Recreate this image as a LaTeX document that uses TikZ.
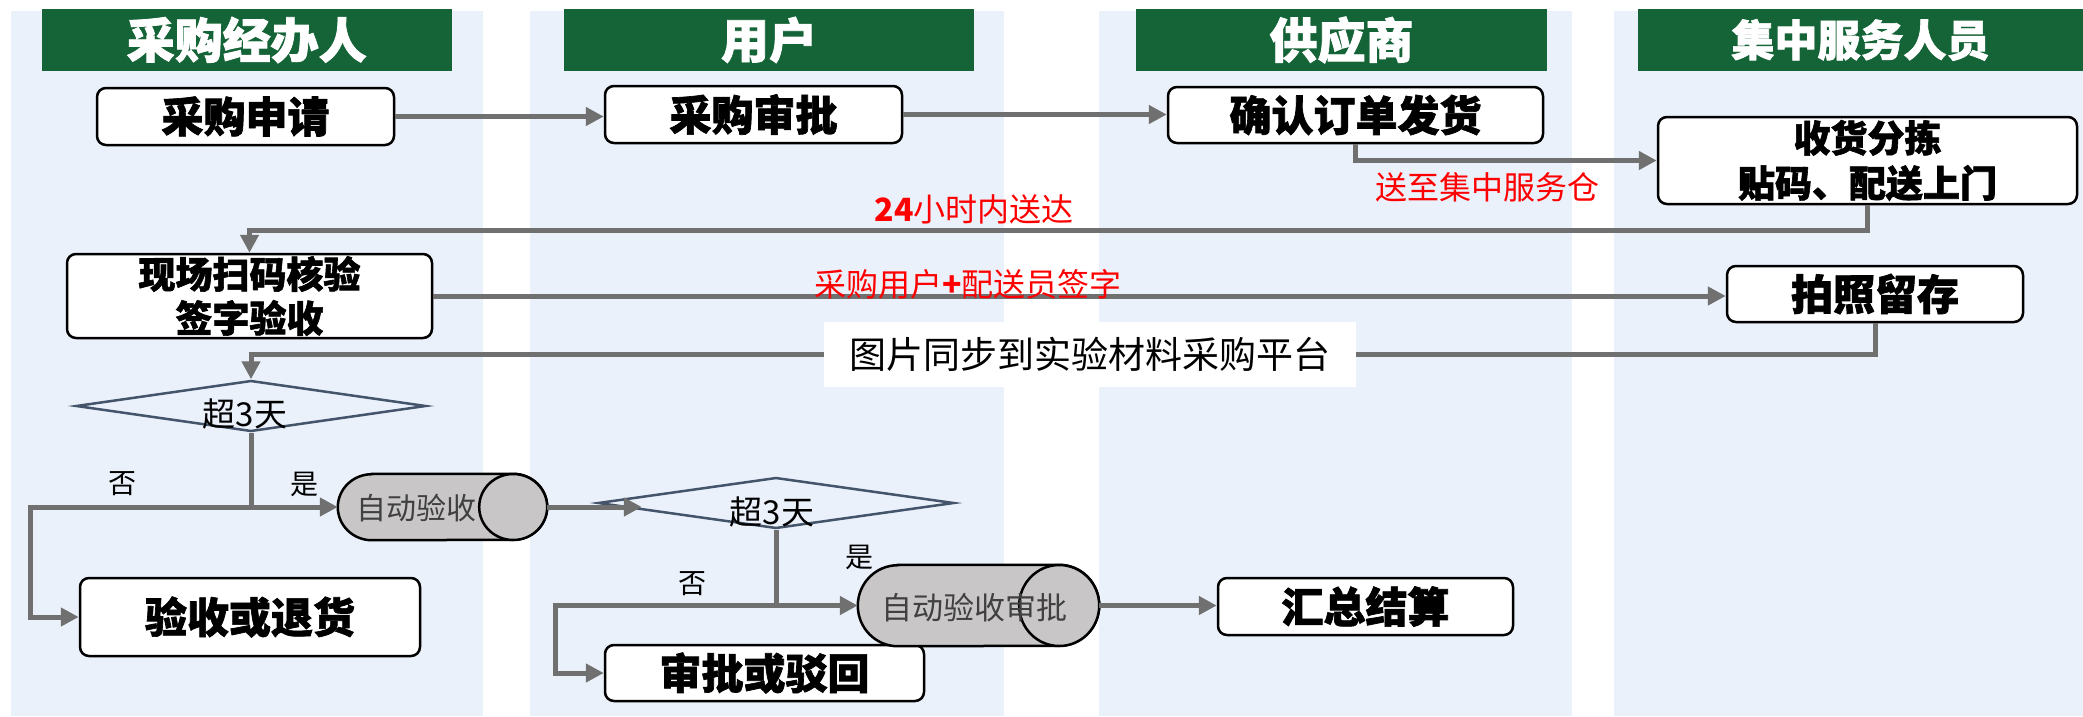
\documentclass[tikz,border=0pt]{standalone}
\usepackage{fontspec}
\setmainfont{Noto Sans CJK SC}[BoldFeatures={FakeBold=1.6}]
\newfontfamily\redbold{Noto Sans CJK SC}
\usetikzlibrary{arrows.meta,shapes.geometric,calc}
\definecolor{laneblue}{RGB}{234,241,250}
\definecolor{hdrgreen}{RGB}{21,100,55}
\definecolor{arrgray}{RGB}{112,112,112}
\definecolor{decblue}{RGB}{68,84,106}
\definecolor{cylgray}{RGB}{200,198,199}
\definecolor{txtgray}{RGB}{64,64,64}
\tikzset{
  lane/.style={fill=laneblue, draw=none},
  hdr/.style={fill=hdrgreen, text=white, inner sep=0pt, minimum height=62pt, font=\fontsize{48}{52}\selectfont\bfseries},
  box/.style={draw=black, line width=2.5pt, fill=white, rounded corners=9pt, inner sep=0pt, align=center, font=\fontsize{42}{46}\selectfont\bfseries},
  dec/.style={diamond, draw=decblue, line width=2.5pt, inner sep=0pt, minimum height=51pt},
  arr/.style={draw=arrgray, line width=5pt, -{Triangle[length=18pt,width=18pt]}},
  lbl/.style={inner sep=0pt, font=\fontsize{28}{30}\selectfont},
  redlbl/.style={inner sep=0pt, text=red, font=\fontsize{32}{34}\selectfont},
  cylbody/.style={inner sep=0pt, draw=none},
  cyl/.style={draw=black, line width=2.5pt, fill=cylgray},
  cyltxt/.style={inner sep=0pt, text=txtgray, font=\fontsize{31}{33}\selectfont},
}
\begin{document}
\begin{tikzpicture}[x=1pt,y=-1pt]
\useasboundingbox (0,0) rectangle (2083,716);
\fill[white] (0,0) rectangle (2083,716);
% lanes
\fill[lane] (11,11) rectangle (483,716);
\fill[lane] (530,11) rectangle (1004,716);
\fill[lane] (1099,11) rectangle (1572,716);
\fill[lane] (1614,11) rectangle (2083,716);
% headers
\node[hdr, minimum width=410pt] (h1) at (246.75,40) {采购经办人};
\node[hdr, minimum width=410pt] (h2) at (769,40) {用户};
\node[hdr, minimum width=411pt] (h3) at (1341.5,40) {供应商};
\node[hdr, minimum width=445pt, font=\fontsize{43}{46}\selectfont\bfseries] (h4) at (1860.5,40) {集中服务人员};
% boxes
\node[box, minimum width=297pt, minimum height=57pt] (b1) at (245.5,116.5) {采购申请};
\node[box, minimum width=297pt, minimum height=57pt] (b2) at (753.5,114.5) {采购审批};
\node[box, minimum width=375pt, minimum height=56pt] (b3) at (1355.5,115) {确认订单发货};
\node[box, minimum width=419pt, minimum height=87pt, font=\fontsize{37}{45}\selectfont\bfseries] (b4) at (1867.5,160.5) {收货分拣\\贴码、配送上门};
\node[box, minimum width=365pt, minimum height=84pt, font=\fontsize{37}{44}\selectfont\bfseries] (b5) at (249.5,296) {现场扫码核验\\签字验收};
\node[box, minimum width=296pt, minimum height=56pt] (b6) at (1875,294) {拍照留存};
\node[box, minimum width=340pt, minimum height=78pt] (b7) at (250,617) {验收或退货};
\node[box, minimum width=319pt, minimum height=56pt] (b8) at (764.5,673) {审批或驳回};
\node[box, minimum width=295pt, minimum height=57pt] (b9) at (1365.5,606.5) {汇总结算};
% decisions
\node[dec, minimum width=350pt] (d1) at (251,406) {};
\node[lbl, font=\fontsize{33}{35}\selectfont] (d1t) at (245,414) {超3天};
\node[dec, minimum width=356pt] (d2) at (776,503) {};
\node[lbl, font=\fontsize{33}{35}\selectfont] (d2t) at (772,512) {超3天};
% cylinders
\node[cylbody, minimum width=209pt, minimum height=66pt] (c1) at (442.5,507) {};
\draw[cyl] ([xshift=34pt]c1.north west) -- ([xshift=-34pt]c1.north east)
  arc[start angle=90,end angle=-90,x radius=34pt,y radius=33pt]
  -- ([xshift=34pt]c1.south west)
  arc[start angle=270,end angle=90,x radius=34pt,y radius=33pt] -- cycle;
\draw[cyl] ([xshift=-34pt]c1.east) ellipse[x radius=34pt, y radius=33pt];
\node[cyltxt, font=\fontsize{30}{32}\selectfont] (c1t) at (416,508) {自动验收};
\node[cylbody, minimum width=241pt, minimum height=81pt] (c2) at (978.5,605.5) {};
\draw[cyl] ([xshift=40pt]c2.north west) -- ([xshift=-40pt]c2.north east)
  arc[start angle=90,end angle=-90,x radius=40pt,y radius=40.5pt]
  -- ([xshift=40pt]c2.south west)
  arc[start angle=270,end angle=90,x radius=40pt,y radius=40.5pt] -- cycle;
\draw[cyl] ([xshift=-40pt]c2.east) ellipse[x radius=40pt, y radius=40.5pt];
\node[cyltxt] (c2t) at (974,608) {自动验收审批};
% connectors
\draw[arr] (b1.east) -- (b1.east -| b2.west);
\draw[arr] (b2.east) -- (b2.east -| b3.west);
\draw[arr] (b3.south) |- (b4.west);
\draw[arr] (b4.south) -- ++(0,25) -| (b5.north);
\draw[arr] (b5.east) -- (b5.east -| b6.west);
\draw[arr] (b6.south) -- ++(0,31) -| (d1.north);
\draw[arr] (d1.south) |- (c1.west);
\draw[arr] (d1.south |- c1.west) -- ++(-221,0) |- (b7.west);
\draw[arr, shorten >=-45pt] (c1.east) -- (c1.east -| d2.west);
\draw[arr] (d2.south) |- (c2.west);
\draw[arr] (d2.south |- c2.west) -- ++(-221,0) |- (b8.west);
\draw[arr] (c2.east) -- (c2.east -| b9.west);
% labels
\node[fill=white, inner sep=0pt, minimum width=532pt, minimum height=65pt, font=\fontsize{37}{40}\selectfont] (sync) at (1090,354.5) {图片同步到实验材料采购平台};
\node[redlbl] (l1) at (1487,187) {送至集中服务仓};
\node[redlbl] (l2) at (974,209) {{\redbold\bfseries 24}小时内送达};
\node[redlbl] (l3) at (968,284) {采购用户{\redbold\bfseries +}配送员签字};
\node[lbl] (n1) at (122,484) {否};
\node[lbl] (y1) at (304,484) {是};
\node[lbl] (n2) at (692,584) {否};
\node[lbl] (y2) at (859,557) {是};
\end{tikzpicture}
\end{document}
